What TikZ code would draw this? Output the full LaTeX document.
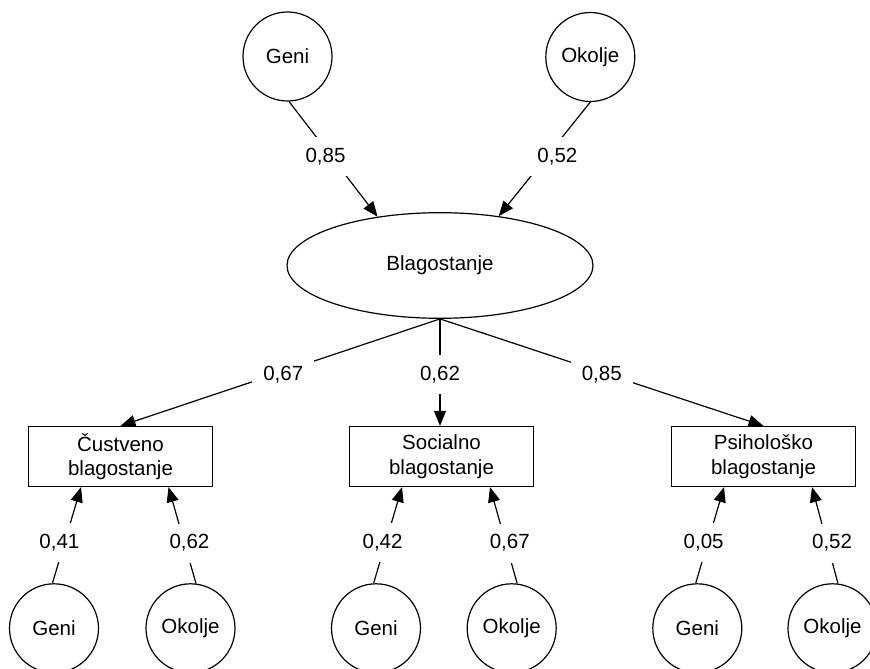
\documentclass[tikz,border=0pt]{standalone}
\usepackage{fontspec}
\setmainfont{Liberation Sans}
\usetikzlibrary{arrows.meta,shapes.geometric}
\begin{document}
\begin{tikzpicture}[x=1pt,y=-1pt,
  font=\fontsize{20.5}{24.5}\selectfont,
  latent/.style={circle,draw,line width=1.2pt,minimum size=89pt,inner sep=0pt},
  factor/.style={ellipse,draw,line width=1.2pt,minimum width=306pt,minimum height=105.6pt,inner sep=0pt},
  indicator/.style={rectangle,draw,line width=1.2pt,minimum width=184pt,minimum height=60pt,inner sep=0pt,align=center},
  link/.style={line width=1.2pt,-{Triangle[length=15pt,width=12pt]}},
  coef/.style={fill=white,inner sep=11pt}]
\useasboundingbox (0,0) rectangle (870,669);
\clip (0,0) rectangle (870,669);

% sources of the common factor
\node[latent] (gT) at (287.5,56.5) {Geni};
\node[latent] (oT) at (590.3,57) {Okolje};

% common factor
\node[factor] (blag) at (440,265.5) {Blagostanje};

% three kinds of well-being
\node[indicator] (cus) at (120.5,456.5) {Čustveno\\blagostanje};
\node[indicator] (soc) at (441.5,456.5) {Socialno\\blagostanje};
\node[indicator] (psi) at (763.5,456.5) {Psihološko\\blagostanje};

% specific sources
\node[latent] (g1) at (54,628.3) {Geni};
\node[latent] (o1) at (190.5,628.3) {Okolje};
\node[latent] (g2) at (376,628.3) {Geni};
\node[latent] (o2) at (511.7,628.3) {Okolje};
\node[latent] (g3) at (697.3,628.3) {Geni};
\node[latent] (o3) at (832.5,628.3) {Okolje};

% paths into the common factor
\draw[link] (gT.-88) -- (blag.142) node[coef,pos=0.48,xshift=-6pt]{0,85};
\draw[link] (oT.-90) -- (blag.40) node[coef,pos=0.48,xshift=11pt]{0,52};

% loadings of the common factor
\draw[link] (blag.south) -- (cus.north) node[coef,pos=0.5,xshift=3pt,yshift=-2pt]{0,67};
\draw[link] (blag.south) -- (blag.south |- soc.north) node[coef,midway,yshift=-2pt]{0,62};
\draw[link] (blag.south) -- (psi.north) node[coef,midway,yshift=-2pt]{0,85};

% specific paths
\draw[link] (g1.92) -- ([xshift=-39.5pt]cus.south) node[coef,pos=0.42,xshift=-5pt]{0,41};
\draw[link] (o1.83) -- ([xshift=48pt]cus.south) node[coef,pos=0.42,xshift=5pt]{0,62};
\draw[link] (g2.93) -- ([xshift=-39.5pt]soc.south) node[coef,pos=0.42,xshift=-3pt]{0,42};
\draw[link] (o2.83) -- ([xshift=48.5pt]soc.south) node[coef,pos=0.42,xshift=4pt]{0,67};
\draw[link] (g3.92) -- ([xshift=-39.5pt]psi.south) node[coef,pos=0.42,xshift=-4pt]{0,05};
\draw[link] (o3.83) -- ([xshift=48.5pt]psi.south) node[coef,pos=0.42,xshift=5pt]{0,52};
\end{tikzpicture}
\end{document}
